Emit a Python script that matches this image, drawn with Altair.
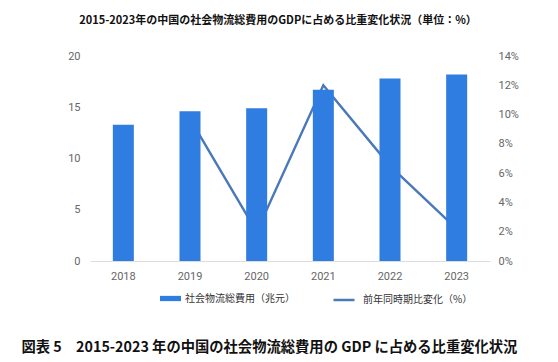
import altair as alt
import pandas as pd

years = ["2018", "2019", "2020", "2021", "2022", "2023"]
cost = [13.3, 14.6, 14.9, 16.7, 17.8, 18.2]          # 社会物流総費用（兆元）
growth = [None, 9.7, 2.0, 12.0, 6.5, 2.2]           # 前年同時期比変化（%）

bar_name = "社会物流総費用（兆元）"
line_name = "前年同時期比変化（%）"
title_text = "2015-2023年の中国の社会物流総費用のGDPに占める比重変化状況（単位：%）"
caption_text = "図表 5　2015-2023 年の中国の社会物流総費用の GDP に占める比重変化状況"

df = pd.DataFrame({"year": years, "cost": cost, "growth": growth,
                   "s1": bar_name, "s2": line_name})

BAR = "#2f7de0"
LINE = "#4a78b8"
LATIN = "Roboto"
CJK = "Noto Sans CJK JP"

x = alt.X("year:O", sort=years,
          scale=alt.Scale(paddingInner=0.68, paddingOuter=0.34),
          axis=alt.Axis(title=caption_text, labelAngle=0, ticks=False,
                        domainColor="#dddddd", labelColor="#666666",
                        labelFont=LATIN, labelFontSize=11, labelPadding=9,
                        titleFont=CJK, titleFontSize=14.3, titleFontWeight="bold",
                        titleColor="#111111", titleX=-69, titleY=90,
                        titleAlign="left", titleAnchor="start",
                        titleBaseline="alphabetic"))

line = alt.Chart(df).mark_line(strokeWidth=2.4).encode(
    x=x,
    y=alt.Y("growth:Q", scale=alt.Scale(domain=[0, 14]),
            axis=alt.Axis(orient="right", title=None, values=list(range(0, 15, 2)),
                          labelExpr="datum.value + '%'", ticks=False, domain=False,
                          grid=False, labelColor="#666666", labelFont=LATIN,
                          labelFontSize=11, labelPadding=8)),
    stroke=alt.Stroke("s2:N", scale=alt.Scale(range=[LINE]),
                      legend=alt.Legend(orient="none", legendX=242, legendY=232,
                                        title=None, symbolType="stroke",
                                        symbolSize=440, symbolStrokeWidth=2.5,
                                        labelFont=CJK, labelFontSize=10,
                                        labelColor="#333333", labelOffset=7)),
)

bars = alt.Chart(df).mark_bar(size=21).encode(
    x=x,
    y=alt.Y("cost:Q", scale=alt.Scale(domain=[0, 20]),
            axis=alt.Axis(orient="left", title=None, values=[0, 5, 10, 15, 20],
                          ticks=False, domain=False, grid=False,
                          labelColor="#666666", labelFont=LATIN,
                          labelFontSize=11, labelPadding=10)),
    color=alt.Color("s1:N", scale=alt.Scale(range=[BAR]),
                    legend=alt.Legend(orient="none", legendX=70, legendY=232,
                                      title=None,
                                      symbolType="M-1,-0.25L1,-0.25L1,0.25L-1,0.25Z",
                                      symbolSize=440, symbolStrokeWidth=0,
                                      labelFont=CJK, labelFontSize=10,
                                      labelColor="#333333", labelOffset=4)),
)

chart = alt.layer(line, bars).resolve_scale(y="independent").properties(
    width=400, height=205,
    background="white",
    title=alt.TitleParams(title_text, anchor="middle", frame="group", dx=-12,
                          offset=24, font=CJK, fontSize=11, fontWeight="bold",
                          color="#111111"),
    autosize=alt.AutoSizeParams(type="none"),
    padding={"left": 82, "top": 48, "right": 60, "bottom": 95},
).configure_view(strokeWidth=0, stroke="transparent")

chart.save("out.html", embed_options={"renderer": "svg", "actions": False})
